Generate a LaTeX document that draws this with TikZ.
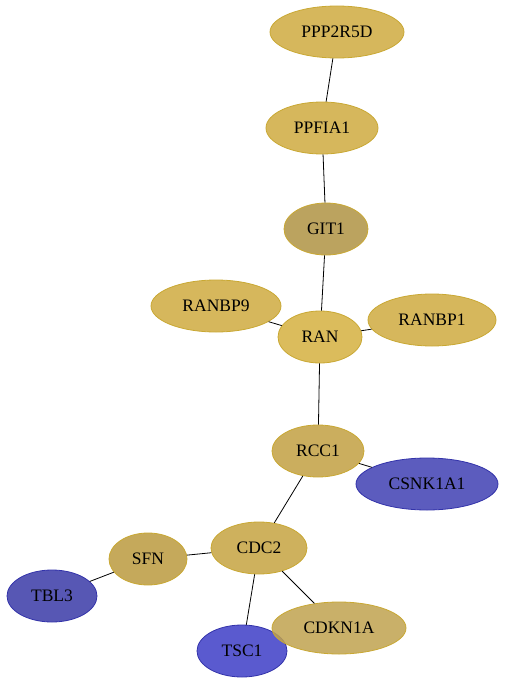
\documentclass[tikz,border=0pt]{standalone}
\usepackage{fontspec}
\setmainfont{Liberation Serif}
\usepackage{tikz}
\usetikzlibrary{positioning}
\usetikzlibrary{shapes.geometric}

\definecolor{goldA}{HTML}{D6B75C}
\definecolor{goldB}{HTML}{BBA35F}
\definecolor{goldC}{HTML}{CBAE5E}
\definecolor{goldD}{HTML}{BFA24F}
\definecolor{goldE}{HTML}{C9A833}
\definecolor{goldF}{HTML}{DBBC5C}
\definecolor{blueA}{HTML}{5C5CBE}
\definecolor{blueB}{HTML}{5A5ACF}
\definecolor{blueE}{HTML}{3333AA}

\begin{document}
\begin{tikzpicture}[x=1pt,y=-1pt,
	prot/.style={ellipse, draw=goldE, fill=goldA, line width=0.8pt, inner sep=0pt, minimum height=52pt, font=\fontsize{17.5}{20}\selectfont},
	hub/.style={prot, fill=goldB},
	mid/.style={prot, fill=goldC},
	ext/.style={prot, draw=blueE, fill=blueA},
	link/.style={black, line width=0.8pt}]

	\useasboundingbox (0,0) rectangle (504,685);

	%Vertices
	\node[prot, minimum width=134pt] (PPP) at (337,32) {PPP2R5D};
	\node[prot, minimum width=112pt] (PPF) at (322,128) {PPFIA1};
	\node[hub, minimum width=84pt] (GIT) at (326,229) {GIT1};
	\node[prot, minimum width=130pt] (RB9) at (216,306) {RANBP9};
	\node[prot, fill=goldF, minimum width=84pt] (RAN) at (320,337) {RAN};
	\node[prot, minimum width=128pt] (RB1) at (432,320) {RANBP1};
	\node[mid, minimum width=92pt] (RCC) at (318,451) {RCC1};
	\node[ext, minimum width=142pt] (CSN) at (427,484) {CSNK1A1};
	\node[mid, fill=goldC!70!goldA, minimum width=96pt] (CDC) at (259,548) {CDC2};
	\node[mid, fill=goldC!97!black, minimum width=78pt] (SFN) at (148,559) {SFN};
	\node[ext, fill=blueA!95!black, minimum width=90pt] (TBL) at (52,596) {TBL3};
	\node[ext, fill=blueB, minimum width=90pt] (TSC) at (242,651) {TSC1};
	\node[mid, fill=goldD, fill opacity=0.85, text opacity=1, minimum width=134pt] (CDK) at (339,628) {CDKN1A};

	%Edges
	\draw[link] (PPP) -- (PPF);
	\draw[link] (PPF) -- (GIT);
	\draw[link] (GIT) -- (RAN);
	\draw[link] (RB9) -- (RAN);
	\draw[link] (RAN) -- (RB1);
	\draw[link] (RAN) -- (RCC);
	\draw[link] (RCC) -- (CSN);
	\draw[link] (RCC) -- (CDC);
	\draw[link] (CDC) -- (SFN);
	\draw[link] (SFN) -- (TBL);
	\draw[link] (CDC) -- (TSC);
	\draw[link] (CDC) -- (CDK);

\end{tikzpicture}
\end{document}
